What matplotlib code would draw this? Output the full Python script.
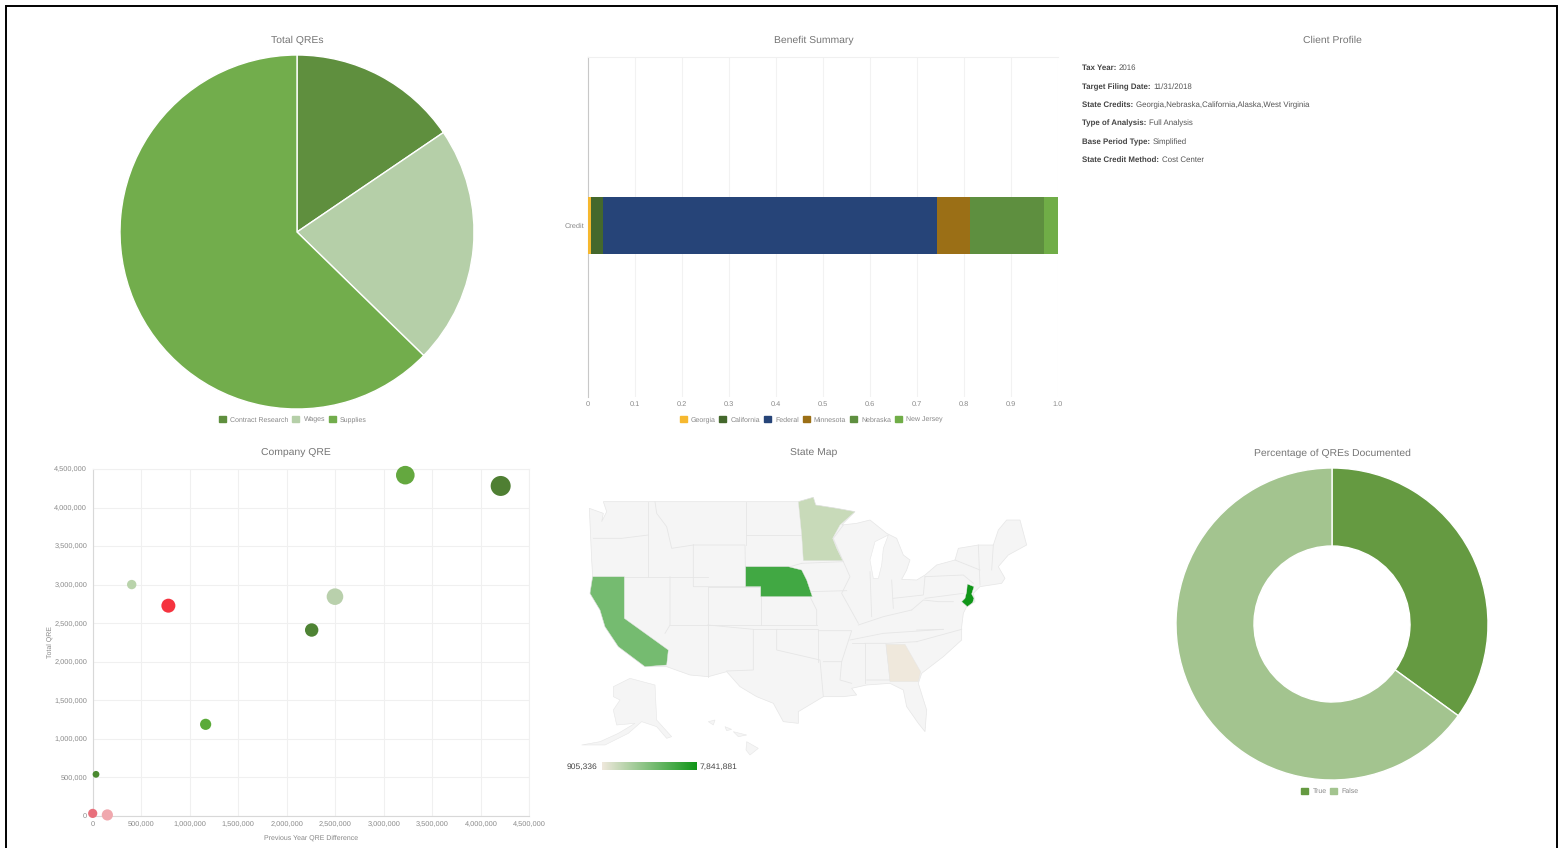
import matplotlib
matplotlib.use('Agg')
import matplotlib.pyplot as plt
import numpy as np
from matplotlib.colors import LinearSegmentedColormap, Normalize
from matplotlib.patches import Patch, Polygon, Rectangle
from matplotlib.ticker import FuncFormatter

W, H = 1561, 848
plt.rcParams['font.family'] = ['Liberation Sans', 'DejaVu Sans']
plt.rcParams['text.hinting'] = 'no_hinting'

# pie
qre_labels = ['Contract Research', 'Wages', 'Supplies']
qre_values = [15.5, 21.8, 62.7]
qre_colors = ['#5f8f3e', '#b5cfa8', '#72ad4c']

# stacked bar
credit_labels = ['Georgia', 'California', 'Federal', 'Minnesota', 'Nebraska', 'New Jersey']
credit_values = [0.006, 0.026, 0.710, 0.070, 0.159, 0.029]
credit_colors = ['#f6b82f', '#44682c', '#264478', '#9b6f16', '#5e8f3f', '#70ad47']

# profile
profile_keys = ['Tax Year:', 'Target Filing Date:', 'State Credits:', 'Type of Analysis:',
                'Base Period Type:', 'State Credit Method:']
profile_vals = ['2016', '11/31/2018', 'Georgia,Nebraska,California,Alaska,West Virginia',
                'Full Analysis', 'Simplified', 'Cost Center']

# bubbles
diff_qre = [3222000, 4205000, 402000, 780000, 2497000, 2257000, 1164000, 34000, 0, 151000]
total_qre = [4420000, 4280000, 3000000, 2726000, 2843000, 2410000, 1186000, 537000, 30000, 10000]
bubble_r = [9.3, 10, 4.7, 7, 8.3, 6.7, 5.6, 3.4, 4.6, 5.6]
bubble_colors = ['#64a83f', '#4f7f33', '#b9d3ab', '#f5333f', '#b9d0ac', '#4e8334',
                 '#5aaa38', '#4a8a30', '#e8707c', '#f0a8ae']

# donut
doc_labels = ['True', 'False']
doc_values = [35, 65]
doc_colors = ['#659a41', '#a3c48f']

# map values
state_values = {'Georgia': 905336, 'Minnesota': 2150000, 'California': 4700000,
                'Nebraska': 6300000, 'New Jersey': 7841881}

# map shapes
us_outline = [(118,115),(160,130),(155,155),(170,125),(160,95),(745,95),(790,82),(797,105),(860,115),(915,125),
              (875,165),(920,160),(960,150),(1010,190),(1040,205),(1060,255),(1080,270),(1070,300),(1055,328),
              (1100,330),(1125,315),(1160,285),(1215,270),(1225,235),(1285,225),(1330,225),(1345,180),(1370,150),
              (1410,150),(1430,225),(1375,255),(1345,290),(1365,325),(1355,340),(1290,350),(1270,370),
              (1275,395),(1250,410),(1240,430),(1235,470),(1235,510),(1180,560),(1115,610),(1105,640),
              (1130,720),(1125,785),(1105,760),(1070,710),(1060,660),(1020,640),(950,645),(905,655),
              (920,675),(880,680),(820,680),(745,725),(745,760),(700,755),(670,700),(620,680),(570,650),
              (530,605),(475,620),(420,615),(350,590),(285,590),(205,530),(165,470),(150,420),(120,370),(128,320),
              (125,270)]
lake_michigan = [(1015,195),(975,215),(960,270),(970,325),(985,325),(995,285),(1000,235)]
state_borders = [
    [(130,205),(215,205),(295,195)], [(295,95),(295,320)], [(128,320),(473,320)],
    [(315,95),(320,130),(350,170),(365,235),(430,225)], [(430,225),(585,225),(587,350),(430,350),(430,225)],
    [(587,95),(587,225)], [(587,195),(755,195)], [(587,290),(720,290),(755,280)],
    [(473,350),(632,350),(632,465),(473,465)], [(360,320),(360,465),(345,490)],
    [(473,350),(473,620)], [(360,465),(473,465)], [(473,465),(610,478),(610,600),(530,603)],
    [(632,465),(800,465)], [(780,380),(800,420),(800,465)], [(610,478),(805,478),(805,575)],
    [(680,478),(680,540),(810,570),(820,680)], [(805,482),(905,482),(875,575),(820,575)],
    [(875,575),(870,630),(905,640)], [(755,280),(880,275)], [(780,365),(890,362)],
    [(880,275),(900,320),(875,370),(925,460)], [(960,305),(965,440)], [(1025,330),(1030,415)],
    [(905,520),(945,520),(945,640)], [(945,520),(1008,520),(1020,630),(950,630)],
    [(900,510),(1000,490),(1180,478)], [(1100,515),(1235,478)], [(1010,520),(1100,515)],
    [(925,465),(1000,440),(1085,420)], [(1030,385),(1120,375),(1125,320)],
    [(1085,420),(1120,390),(1165,395),(1210,395)], [(1125,385),(1240,370)],
    [(1125,320),(1240,315),(1270,340)], [(1285,225),(1290,345)], [(1330,225),(1325,300)],
    [(1215,270),(1290,300)], [(880,165),(850,205),(880,275)], [(1100,480),(1180,478)],
    [(1105,610),(1020,630)],
]
georgia = [(1008,523),(1065,523),(1112,605),(1105,635),(1020,635)]
minnesota = [(745,95),(790,82),(797,105),(860,115),(915,125),(870,165),(848,205),(860,235),(878,272),(760,272),(755,195)]
california = [(128,320),(223,320),(223,445),(355,540),(350,585),(285,590),(205,530),(165,470),(150,420),(120,370)]
nebraska = [(587,290),(715,290),(755,300),(770,330),(787,380),(632,380),(632,350),(587,350)]
new_jersey = [(1252,342),(1272,350),(1265,372),(1272,385),(1268,398),(1252,410),(1235,395),(1245,385),(1250,365)]
alaska = [(190,650),(240,625),(315,645),(320,750),(365,800),(350,805),(320,770),(275,755),(235,790),(165,825),
          (95,825),(150,815),(205,790),(255,760),(200,765),(190,720),(210,690),(190,680)]
hawaii = [[(590,815),(625,835),(600,855),(588,840)], [(550,785),(590,795),(565,800)],
          [(525,770),(545,778),(530,782)], [(475,755),(495,750),(490,765)]]
state_shapes = {'Georgia': georgia, 'Minnesota': minnesota, 'California': california,
                'Nebraska': nebraska, 'New Jersey': new_jersey}


def px_axes(x0, y0, x1, y1):
    return fig.add_axes([x0/W, 1-y1/H, (x1-x0)/W, (y1-y0)/H])


def title(x, y, s):
    fig.text(x/W, 1-y/H, s, ha='center', va='center_baseline', fontsize=7.45, color='#757575')


def small_legend(labels, colors, x, y):
    hs = [Patch(color=c, label=l) for c, l in zip(colors, labels)]
    fig.legend(handles=hs, loc='center', bbox_to_anchor=(x/W, 1-y/H), ncol=len(labels), frameon=False,
               fontsize=5, labelcolor='#888888', handlelength=1, handleheight=1, handletextpad=0.6,
               columnspacing=0.55, borderpad=0)


fig = plt.figure(figsize=(W/100, H/100), dpi=100)

# screenshot frame
fig.add_artist(Rectangle((6/W, -0.01), 1551/W, 1.01-6/H, transform=fig.transFigure,
                         fill=False, edgecolor='black', linewidth=1.4))

# Total QREs
title(297, 39, 'Total QREs')
ax = px_axes(297-177, 232-177, 297+177, 232+177)
ax.pie(qre_values, colors=qre_colors, startangle=90, counterclock=False, radius=1,
       wedgeprops={'edgecolor': 'white', 'linewidth': 1})
ax.set_xlim(-1, 1)
ax.set_ylim(-1, 1)
small_legend(qre_labels, qre_colors, 293, 419.5)

# Benefit Summary
title(814, 39, 'Benefit Summary')
ax = px_axes(588, 57, 1058, 397)
left = 0
for v, c, l in zip(credit_values, credit_colors, credit_labels):
    ax.barh(0, v, left=left, height=0.168, color=c, label=l, zorder=3)
    left += v
ax.set_xlim(0, 1)
ax.set_ylim(-0.5044, 0.4956)
ax.set_xticks(np.arange(0, 1.01, 0.1))
ax.set_xticklabels(['0', '0.1', '0.2', '0.3', '0.4', '0.5', '0.6', '0.7', '0.8', '0.9', '1.0'])
ax.set_yticks([0])
ax.set_yticklabels(['Credit'])
ax.tick_params(axis='x', length=0, labelsize=5.3, labelcolor='#888888', pad=2.5)
ax.tick_params(axis='y', length=0, labelsize=5.3, labelcolor='#888888', pad=3)
ax.grid(axis='x', color='#f2f2f2', linewidth=0.8, zorder=0)
for s in ['right', 'bottom']:
    ax.spines[s].set_visible(False)
ax.spines['top'].set_color('#f0f0f0')
ax.spines['left'].set_color('#c8c8c8')
small_legend(credit_labels, credit_colors, 811, 419.5)

# Client Profile
title(1332, 39, 'Client Profile')
ys = [67, 86, 104, 122, 141, 159]
renderer = fig.canvas.get_renderer()
for k, v, y in zip(profile_keys, profile_vals, ys):
    t = fig.text(1082/W, 1-y/H, k, fontsize=5.7, fontweight='bold', color='#444444', va='center_baseline')
    end = t.get_window_extent(renderer).x1
    fig.text((end+2.5)/W, 1-y/H, v, fontsize=5.7, color='#555555', va='center_baseline')

# Company QRE
title(296, 452, 'Company QRE')
ax = px_axes(92.7, 469, 529.3, 815.7)
sizes = [(2*r*0.72)**2 for r in bubble_r]
ax.scatter(diff_qre, total_qre, s=sizes, c=bubble_colors, linewidths=0, zorder=3, clip_on=False)
ax.set_xlim(0, 4500000)
ax.set_ylim(0, 4500000)
ax.set_xticks(np.arange(0, 4500001, 500000))
ax.set_yticks(np.arange(0, 4500001, 500000))
fmt = FuncFormatter(lambda v, p: f'{int(v):,}')
ax.xaxis.set_major_formatter(fmt)
ax.yaxis.set_major_formatter(fmt)
ax.tick_params(length=0, labelsize=5.3, labelcolor='#888888', pad=4)
ax.grid(color='#f0f0f0', linewidth=0.8, zorder=0)
ax.spines['top'].set_color('#f0f0f0')
ax.spines['right'].set_color('#f0f0f0')
ax.spines['left'].set_color('#d8d8d8')
ax.spines['bottom'].set_color('#d8d8d8')
ax.set_xlabel('Previous Year QRE Difference', fontsize=5, color='#888888', labelpad=5)
ax.set_ylabel('Total QRE', fontsize=5, color='#888888', labelpad=0.5)

# State Map
title(814, 452, 'State Map')
ax = px_axes(550, 470, 1050, 780)
ax.set_xlim(0, 1500)
ax.set_ylim(930, 0)
ax.axis('off')
land = '#f5f5f5'
edge = '#e6e6e6'
ax.add_patch(Polygon(us_outline, facecolor=land, edgecolor=edge, linewidth=0.5))
ax.add_patch(Polygon(lake_michigan, facecolor='white', edgecolor=edge, linewidth=0.4))
for line in state_borders:
    xs, ys2 = zip(*line)
    ax.plot(xs, ys2, color=edge, linewidth=0.6)
ax.add_patch(Polygon(alaska, facecolor=land, edgecolor=edge, linewidth=0.4))
for isl in hawaii:
    ax.add_patch(Polygon(isl, facecolor=land, edgecolor=edge, linewidth=0.4))
cmap = LinearSegmentedColormap.from_list('geo', ['#efe8dc', '#109618'])
norm = Normalize(905336, 7841881)
for name, shape in state_shapes.items():
    ax.add_patch(Polygon(shape, facecolor=cmap(norm(state_values[name])), edgecolor=edge, linewidth=0.3, zorder=3))

cax = px_axes(601.7, 762, 696, 770)
cax.imshow(np.linspace(0, 1, 200)[None, :], cmap=cmap, aspect='auto')
cax.axis('off')
fig.text(597/W, 1-766/H, '905,336', ha='right', va='center_baseline', fontsize=6.1, color='#444444')
fig.text(700/W, 1-766/H, '7,841,881', ha='left', va='center_baseline', fontsize=6.1, color='#444444')

# Percentage of QREs Documented
title(1332, 452, 'Percentage of QREs Documented')
ax = px_axes(1332-156, 624-156, 1332+156, 624+156)
ax.pie(doc_values, colors=doc_colors, startangle=90, counterclock=False, radius=1,
       wedgeprops={'width': 0.5, 'edgecolor': 'white', 'linewidth': 1})
ax.set_xlim(-1, 1)
ax.set_ylim(-1, 1)
small_legend(doc_labels, doc_colors, 1330, 791)

fig.savefig('out.png', dpi=100)
